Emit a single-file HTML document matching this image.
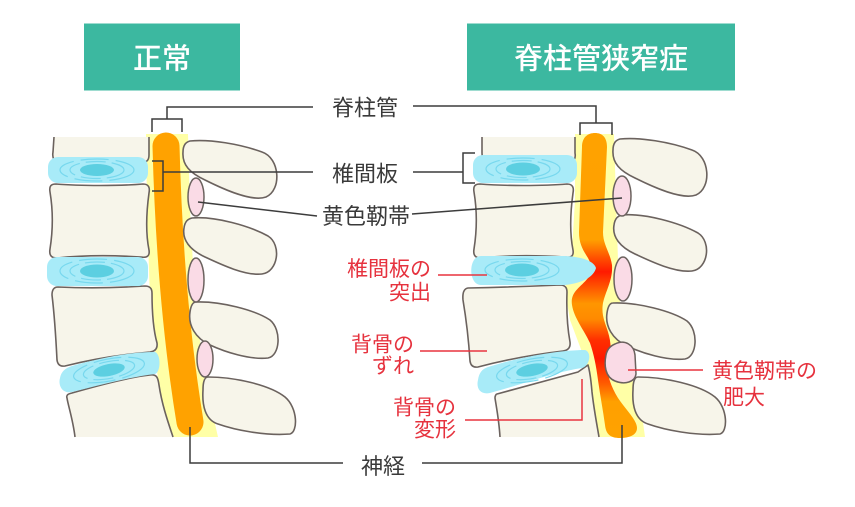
<!DOCTYPE html>
<html><head><meta charset="utf-8"><style>
html,body{margin:0;padding:0;background:#fff;}
svg{display:block;}
text{font-family:"Liberation Sans","Noto Sans CJK JP",sans-serif;}
</style></head><body>
<svg width="855" height="507" viewBox="0 0 855 507" xmlns="http://www.w3.org/2000/svg">
<defs>
<linearGradient id="cordR" gradientUnits="userSpaceOnUse" x1="0" y1="133" x2="0" y2="438">
<stop offset="0" stop-color="#ffa200"/>
<stop offset="0.35" stop-color="#ffa000"/>
<stop offset="0.41" stop-color="#ff5000"/>
<stop offset="0.455" stop-color="#ff1a00"/>
<stop offset="0.51" stop-color="#ff5a00"/>
<stop offset="0.56" stop-color="#ff9600"/>
<stop offset="0.61" stop-color="#ff8a00"/>
<stop offset="0.68" stop-color="#ff2e00"/>
<stop offset="0.74" stop-color="#ff1a00"/>
<stop offset="0.82" stop-color="#ff5a00"/>
<stop offset="0.88" stop-color="#ffa000"/>
<stop offset="1" stop-color="#ffa200"/>
</linearGradient>
</defs>

<!-- headers -->
<rect x="84" y="23.5" width="156" height="67" fill="#3cb8a0"/>
<text x="162" y="68.5" font-size="29" fill="#fff" text-anchor="middle" font-weight="500">正常</text>
<rect x="467" y="23.5" width="268" height="67" fill="#3cb8a0"/>
<text x="601" y="68.5" font-size="29" fill="#fff" text-anchor="middle" font-weight="500">脊柱管狭窄症</text>

<!-- ================= LEFT SPINE ================= -->
<path d="M146,134 L188,134 L190,210 L195,300 L205,380 L218,437 L168,437 L158,380 L150,300 L147,210 Z" fill="#ffffa6"/>
<path d="M166,146 Q170,300 190,422" stroke="#ffa200" stroke-width="27" stroke-linecap="round" fill="none"/>

<g fill="#f7f5ea" stroke="#6b625e" stroke-width="1.6" stroke-linejoin="round">
<!-- body 1 -->
<path d="M54,137 L149,137 L149,155 C149,161 146,163 140,162 C110,160 80,160 60,162 C54,162 52,158 53,152 Z" stroke="none"/>
<path d="M54,137 L53,152 C52,158 54,162 60,162 C80,160 110,160 140,162 C146,163 149,161 149,155 L149,137" fill="none"/>
<!-- body 2 -->
<path d="M56,184 C80,186 120,186 143,184 C149,184 150,188 149,193 C146,215 146,235 149,250 C150,256 147,258 141,257 C110,255 85,255 57,258 C51,258 49,255 50,249 C53,230 53,210 50,192 C49,186 51,184 56,184 Z"/>
<!-- body 3 -->
<path d="M58,287 Q100,289 145,286 Q152,286 152,293 Q152,325 157,343 Q158,351 150,352 Q105,356 65,366 Q58,367 57,360 Q55,320 52,295 Q52,287 58,287 Z"/>
<!-- body 4 -->
<path d="M72,393 C100,385 130,377 150,375 C157,374 158,378 159,385 C162,405 168,422 173,437 L75,437 C73,420 68,405 67,398 C66,395 68,394 72,393 Z" stroke="none"/>
<path d="M75,437 C73,420 68,405 67,398 C66,395 68,394 72,393 C100,385 130,377 150,375 C157,374 158,378 159,385 C162,405 168,422 173,437" fill="none"/>
</g>

<!-- discs left -->
<g>
<rect x="48" y="157" width="100" height="26" rx="10" fill="#a8ebf8"/>
<ellipse cx="97" cy="170" rx="37" ry="11" fill="none" stroke="#78d8ee" stroke-width="1.2" stroke-dasharray="28 7"/>
<ellipse cx="97" cy="170" rx="27" ry="8.5" fill="none" stroke="#78d8ee" stroke-width="1.2" stroke-dasharray="20 6"/>
<ellipse cx="97" cy="170" rx="17" ry="6" fill="#5ccfe1"/>

<rect x="47" y="257" width="101" height="29" rx="10" fill="#a8ebf8"/>
<ellipse cx="97" cy="271" rx="37" ry="12" fill="none" stroke="#78d8ee" stroke-width="1.2" stroke-dasharray="28 7"/>
<ellipse cx="97" cy="271" rx="27" ry="9" fill="none" stroke="#78d8ee" stroke-width="1.2" stroke-dasharray="20 6"/>
<ellipse cx="97" cy="271" rx="17" ry="6.5" fill="#5ccfe1"/>

<path d="M72,366 C100,358 130,352 155,352 C161,354 161,372 155,374 C130,377 100,385 72,392 C62,394 58,385 60,378 C61,372 65,368 72,366 Z" fill="#a8ebf8"/>
<g transform="rotate(-11 109 370)">
<ellipse cx="109" cy="370" rx="36" ry="11" fill="none" stroke="#78d8ee" stroke-width="1.2" stroke-dasharray="28 7"/>
<ellipse cx="109" cy="370" rx="26" ry="8.5" fill="none" stroke="#78d8ee" stroke-width="1.2" stroke-dasharray="20 6"/>
<ellipse cx="109" cy="370" rx="16" ry="6" fill="#5ccfe1"/>
</g>
</g>

<!-- processes left -->
<g fill="#f7f5ea" stroke="#6b625e" stroke-width="1.6" stroke-linejoin="round">
<path id="p1" d="M190,141 C210,139 240,144 262,152 C280,158 282,190 266,197 C252,202 225,190 205,180 C190,173 182,165 183,152 C183,145 186,142 190,141 Z"/>
<path id="p2" d="M192,218 C215,216 250,226 268,236 C282,245 278,272 262,274 C245,276 220,264 205,257 C190,250 182,240 184,228 C185,221 188,219 192,218 Z"/>
<path id="p3" d="M196,302 C220,301 255,310 270,320 C282,330 280,356 268,358 C250,360 225,352 210,345 C195,338 188,325 190,312 C191,305 193,302 196,302 Z"/>
<path id="p4" d="M208,377 C235,377 270,385 285,397 C298,408 298,432 290,434 C265,436 235,430 218,424 C205,420 202,405 203,390 C203,381 205,377 208,377 Z"/>
</g>
<g fill="#fadbe6" stroke="#6b625e" stroke-width="1.5">
<ellipse cx="196" cy="197" rx="8" ry="19"/>
<ellipse cx="196" cy="280" rx="8" ry="22"/>
<ellipse cx="205" cy="359" rx="8" ry="18"/>
</g>

<!-- ================= RIGHT SPINE ================= -->
<path d="M575,134 L614,134 L616,200 L618,260 L620,300 L625,360 L640,400 L645,437 L597,437 L590,400 L585,360 L570,320 L565,290 L572,250 L575,200 Z" fill="#ffffa6"/>
<path d="M582,147 C582,137 588,133 595,133 C602,133 607,137 607,147 L603,232 C603,245 610,252 612,265 C613,280 606,290 603,303 C601,315 605,322 608,332 C611,342 612,352 608,362 C606,372 610,385 618,398 C626,410 637,420 637,428 C637,436 627,438 620,438 C610,438 606,434 605,425 C603,410 600,395 598,380 C596,365 594,355 590,343 C584,330 574,318 572,305 C570,292 580,288 588,278 C592,272 592,265 588,258 C583,250 579,244 579,232 Z" fill="url(#cordR)"/>

<g fill="#f7f5ea" stroke="#6b625e" stroke-width="1.6" stroke-linejoin="round">
<!-- body 1 -->
<path d="M482,137 L575,137 L575,153 C576,159 574,162 568,162 C550,160 520,160 490,162 C485,162 482,159 482,153 Z" stroke="none"/>
<path d="M482,137 L482,153 C482,159 485,162 490,162 C520,160 550,160 568,162 C574,162 576,159 575,153 L575,137" fill="none"/>
<!-- body 2 -->
<path transform="translate(424,0)" d="M56,184 C80,186 120,186 143,184 C149,184 150,188 149,193 C146,215 146,235 149,250 C150,256 147,258 141,257 C110,255 85,255 57,258 C51,258 49,255 50,249 C53,230 53,210 50,192 C49,186 51,184 56,184 Z"/>
<!-- body 3 shifted -->
<path d="M468,288 Q515,287 560,285 Q567,285 567,292 Q566,320 570,342 Q571,350 563,351 Q520,356 478,367 Q471,368 470,361 Q468,330 463,300 Q462,289 468,288 Z"/>
<!-- body 4 deformed -->
<path d="M497,394 C530,385 560,377 578,372 L588,365 C590,372 591,380 592,392 C594,410 597,425 599,437 L500,437 C499,420 496,405 495,398 Z" stroke="none"/>
<path d="M500,437 C499,420 496,405 495,398 C495,396 496,394 497,394 C530,385 560,377 578,372 L588,365 C590,372 591,380 592,392 C594,410 597,425 599,437" fill="none"/>
</g>

<!-- discs right -->
<g>
<rect x="473" y="155" width="104" height="28" rx="10" fill="#a8ebf8"/>
<ellipse cx="523" cy="169" rx="37" ry="11" fill="none" stroke="#78d8ee" stroke-width="1.2" stroke-dasharray="28 7"/>
<ellipse cx="523" cy="169" rx="27" ry="8.5" fill="none" stroke="#78d8ee" stroke-width="1.2" stroke-dasharray="20 6"/>
<ellipse cx="523" cy="169" rx="17" ry="6.5" fill="#5ccfe1"/>

<path d="M481,256 L565,256 C585,257 594,262 596,268 C594,276 584,283 565,285 L481,285 C468,285 468,256 481,256 Z" fill="#a8ebf8"/>
<ellipse cx="522" cy="270" rx="37" ry="11" fill="none" stroke="#78d8ee" stroke-width="1.2" stroke-dasharray="28 7"/>
<ellipse cx="522" cy="270" rx="27" ry="8.5" fill="none" stroke="#78d8ee" stroke-width="1.2" stroke-dasharray="20 6"/>
<ellipse cx="522" cy="270" rx="17" ry="6.5" fill="#5ccfe1"/>

<path d="M488,367 C520,357 560,350 585,350 C592,352 590,366 582,368 C555,372 520,385 490,393 C480,395 476,388 478,380 C479,373 482,369 488,367 Z" fill="#a8ebf8"/>
<g transform="rotate(-11 532 370)">
<ellipse cx="532" cy="370" rx="36" ry="11" fill="none" stroke="#78d8ee" stroke-width="1.2" stroke-dasharray="28 7"/>
<ellipse cx="532" cy="370" rx="26" ry="8.5" fill="none" stroke="#78d8ee" stroke-width="1.2" stroke-dasharray="20 6"/>
<ellipse cx="532" cy="370" rx="16" ry="6" fill="#5ccfe1"/>
</g>
</g>

<!-- processes right -->
<g fill="#f7f5ea" stroke="#6b625e" stroke-width="1.6" stroke-linejoin="round">
<path transform="translate(430,-2)" d="M190,141 C210,139 240,144 262,152 C280,158 282,190 266,197 C252,202 225,190 205,180 C190,173 182,165 183,152 C183,145 186,142 190,141 Z"/>
<path transform="translate(430,-3)" d="M192,218 C215,216 250,226 268,236 C282,245 278,272 262,274 C245,276 220,264 205,257 C190,250 182,240 184,228 C185,221 188,219 192,218 Z"/>
<path transform="translate(417,1)" d="M196,302 C220,301 255,310 270,320 C282,330 280,356 268,358 C250,360 225,352 210,345 C195,338 188,325 190,312 C191,305 193,302 196,302 Z"/>
<path transform="translate(430,0)" d="M208,377 C235,377 270,385 285,397 C298,408 298,432 290,434 C265,436 235,430 218,424 C205,420 202,405 203,390 C203,381 205,377 208,377 Z"/>
</g>
<g fill="#fadbe6" stroke="#6b625e" stroke-width="1.5">
<ellipse cx="622" cy="196" rx="9" ry="20"/>
<ellipse cx="623" cy="279" rx="9" ry="22"/>
<path d="M615,344 C625,339 634,345 635,355 L636,374 C635,382 625,385 615,381 C605,377 604,365 606,355 C607,350 610,346 615,344 Z"/>
</g>

<!-- ================= LEADER LINES (black) ================= -->
<g fill="none" stroke="#3c3c3c" stroke-width="1.5">
<polyline points="313,107 167,107 167,119"/>
<polyline points="152,132 152,119 182,119 182,132"/>
<polyline points="413,106 596,106 596,123"/>
<polyline points="580,135 580,123 612,123 612,135"/>
<line x1="313" y1="172" x2="163" y2="172"/>
<polyline points="152,161 163,161 163,191 152,191"/>
<line x1="413" y1="172" x2="463" y2="172"/>
<polyline points="475,153 463,153 463,183 475,183"/>
<line x1="317" y1="216" x2="198" y2="202"/>
<line x1="412" y1="214" x2="622" y2="198"/>
<polyline points="343,463 190,463 190,427"/>
<polyline points="422,463 622,463 622,425"/>
</g>

<!-- red leader lines -->
<g fill="none" stroke="#e8343f" stroke-width="1.5">
<line x1="438" y1="275" x2="487" y2="275"/>
<line x1="420" y1="351" x2="487" y2="351"/>
<polyline points="465,420 582,420 582,379"/>
<line x1="628" y1="370" x2="703" y2="370"/>
</g>

<!-- labels -->
<g font-size="22" fill="#3a3a3a" text-anchor="middle">
<text x="365" y="115.5">脊柱管</text>
<text x="365" y="181.5">椎間板</text>
<text x="366" y="224">黄色靭帯</text>
<text x="383" y="474">神経</text>
</g>
<g font-size="21" fill="#e6323e">
<text x="431" y="276" text-anchor="end">椎間板の</text>
<text x="431" y="299.5" text-anchor="end">突出</text>
<text x="414" y="351.5" text-anchor="end">背骨の</text>
<text x="414" y="373" text-anchor="end">ずれ</text>
<text x="456" y="414.5" text-anchor="end">背骨の</text>
<text x="456" y="436.5" text-anchor="end">変形</text>
<text x="712" y="378">黄色靭帯の</text>
<text x="723" y="404.5">肥大</text>
</g>
</svg>
</body></html>
